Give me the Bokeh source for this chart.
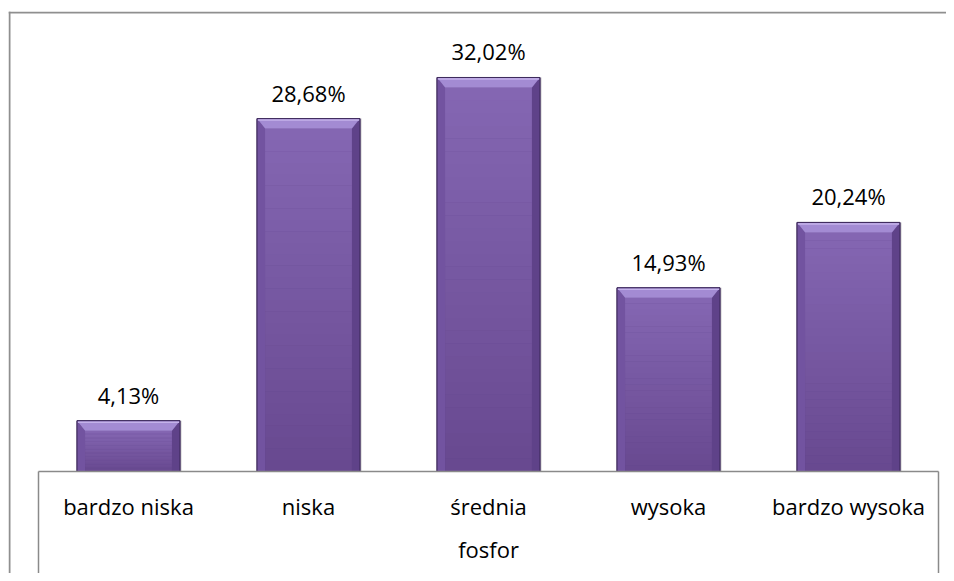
from bokeh.plotting import figure
from bokeh.models import ColumnDataSource, Range1d, FixedTicker, Span
from bokeh.core.properties import value
from bokeh.embed import file_html
from bokeh.resources import INLINE

# ---- data ----
categories = ["bardzo niska", "niska", "średnia", "wysoka", "bardzo wysoka"]
values = [4.13, 28.68, 32.02, 14.93, 20.24]
value_labels = ["4,13%", "28,68%", "32,02%", "14,93%", "20,24%"]
group_label = "fosfor"

# ---- layout constants (pixels) ----
W, H = 946, 573
CHART_L, CHART_T = 8, 11          # outer chart border position
AXIS_L, AXIS_R, AXIS_Y = 38, 938, 471
px_per_unit = 12.305
n = len(categories)
px_x = (AXIS_R - AXIS_L) / n

frame_w = W - CHART_L
frame_h = H - CHART_T
x_start = -(AXIS_L - CHART_L) / px_x
x_end = x_start + frame_w / px_x
y_end = (AXIS_Y - CHART_T) / px_per_unit
y_start = y_end - frame_h / px_per_unit

FONT = "Open Sans"

p = figure(width=W, height=H, output_backend="svg", toolbar_location=None,
           x_range=Range1d(x_start, x_end), y_range=Range1d(y_start, y_end),
           y_axis_location=None,
           min_border_left=CHART_L, min_border_right=0,
           min_border_top=CHART_T, min_border_bottom=0,
           background_fill_color="white", border_fill_color="white")
p.outline_line_color = None
p.xgrid.visible = False
p.ygrid.visible = False

# ---- outer chart border (top and left sides visible) ----
p.add_layout(Span(location=y_end - 1.0 / px_per_unit, dimension="width",
                  line_color="#8f8f8f", line_width=2))
p.add_layout(Span(location=x_start + 1.0 / px_x, dimension="height",
                  line_color="#8f8f8f", line_width=2))

# ---- bars with bevel look ----
bar_w = 0.572
bx = 8 / px_x            # bevel width in category units
by = 10 / px_per_unit    # bevel height in value units

idx = list(range(n))
xc = [i + 0.5 for i in idx]
xl = [c - bar_w / 2 for c in xc]
xr = [c + bar_w / 2 for c in xc]

# soft shadow
p.vbar(x=[c + 2 / px_x for c in xc], top=values, bottom=0, width=bar_w,
       fill_color="#c8c8c8", fill_alpha=0.5, line_color=None)

# base bar (dark edge)
p.vbar(x=xc, top=values, bottom=0, width=bar_w,
       fill_color="#5c4086", line_color="#3e2b5c", line_width=1)

# vertical gradient of the face
c_bot = (0x68, 0x49, 0x90)
c_top = (0x85, 0x67, 0xb3)
N = 30
fb, ft, fx, fcol = [], [], [], []
for i in idx:
    v = values[i]
    face_top = v - by
    for k in range(N):
        t = (k + 0.5) / N
        col = tuple(int(c_bot[j] + (c_top[j] - c_bot[j]) * t) for j in range(3))
        fx.append(xc[i])
        fb.append(face_top * k / N)
        ft.append(face_top * (k + 1) / N + 0.02)
        fcol.append("#%02x%02x%02x" % col)
p.vbar(x=fx, bottom=fb, top=ft, width=bar_w - 2 * bx, fill_color=fcol,
       line_color=None)

# bevel facets
lxs, lys, rxs, rys, txs, tys = [], [], [], [], [], []
for i in idx:
    v = values[i]
    lxs.append([xl[i], xl[i] + bx, xl[i] + bx, xl[i]])
    lys.append([v, v - by, 0, 0])
    rxs.append([xr[i], xr[i] - bx, xr[i] - bx, xr[i]])
    rys.append([v, v - by, 0, 0])
    txs.append([xl[i], xr[i], xr[i] - bx, xl[i] + bx])
    tys.append([v, v, v - by, v - by])
p.patches(lxs, lys, fill_color="#7253a0", line_color=None)
p.patches(rxs, rys, fill_color="#5f4289", line_color=None)
p.patches(txs, tys, fill_color="#a38bd3", line_color=None)
# highlight line on top edge
p.segment(x0=[a + 0.004 for a in xl], x1=[b - 0.004 for b in xr],
          y0=[v - 1.5 / px_per_unit for v in values],
          y1=[v - 1.5 / px_per_unit for v in values],
          line_color="#c4b2ea", line_width=1.5)
# outline
p.vbar(x=xc, top=values, bottom=0, width=bar_w, fill_color=None,
       line_color="#3e2b5c", line_width=1)

# ---- value labels ----
src = ColumnDataSource(dict(x=xc, val=values, lab=value_labels))
p.text(x="x", y="val", text="lab", source=src, text_align="center",
       text_baseline="alphabetic", y_offset=-26,
       text_font=value(FONT), text_font_size="22px", text_color="#000000")

# ---- category axis (drawn at value 0 inside the chart area) ----
ax = p.xaxis[0]
ax.fixed_location = 0
ax.bounds = (0, n)
ax.ticker = FixedTicker(ticks=xc)
ax.major_label_overrides = {c: lab for c, lab in zip(xc, categories)}
ax.axis_line_color = "#8a8a8a"
ax.axis_line_width = 1.5
ax.major_tick_line_color = None
ax.minor_tick_line_color = None
ax.major_label_text_font = FONT
ax.major_label_text_font_size = "22px"
ax.major_label_text_color = "#000000"
ax.major_label_standoff = 13
ax.axis_label = group_label
ax.axis_label_text_font = FONT
ax.axis_label_text_font_size = "22px"
ax.axis_label_text_font_style = "normal"
ax.axis_label_text_color = "#000000"
ax.axis_label_standoff = 10

# group bracket lines at both ends of the category axis
p.segment(x0=[0, n], x1=[0, n], y0=[0, 0], y1=[y_start, y_start],
          line_color="#8a8a8a", line_width=1.5)

open("out.html", "w").write(file_html(p, INLINE))
